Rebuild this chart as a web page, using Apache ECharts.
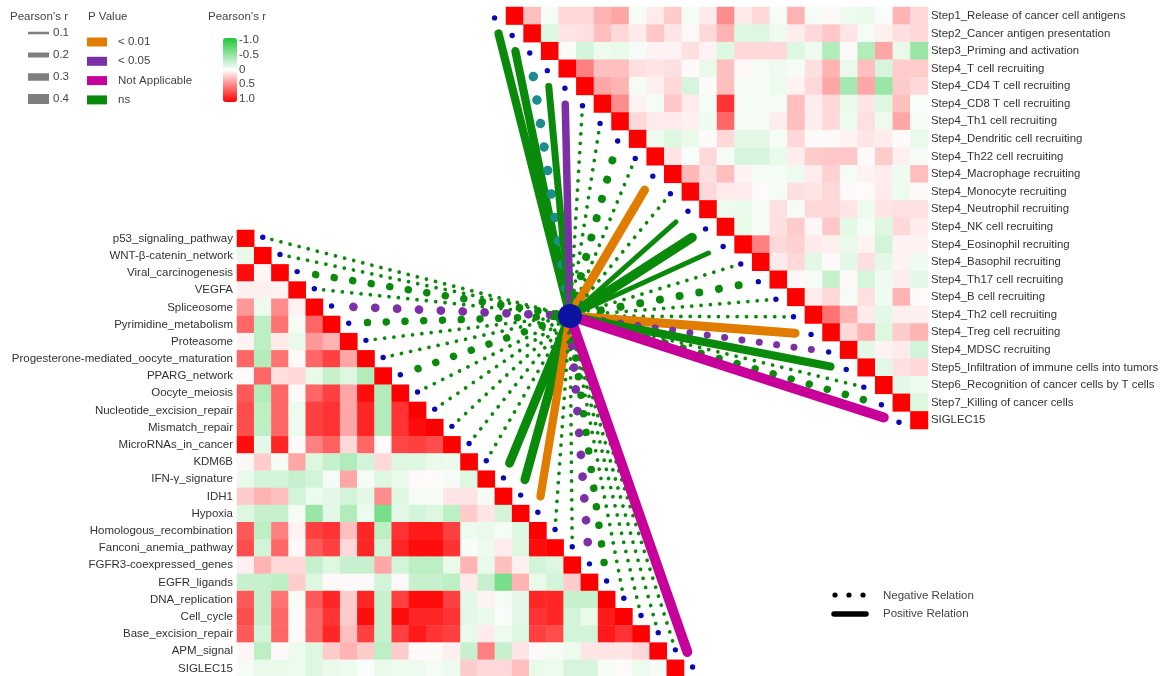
<!DOCTYPE html>
<html>
<head>
<meta charset="utf-8">
<title>Correlation network</title>
<script src="https://cdn.jsdelivr.net/npm/echarts/dist/echarts.min.js"></script>
<style>
  html, body { margin: 0; padding: 0; background: #fff; }
  #main { width: 1170px; height: 676px; }
</style>
</head>
<body>
<div id="main"></div>
<script>
// immune cycle steps (right triangle, upper half)
const rightLabels = [
  'Step1_Release of cancer cell antigens', 'Step2_Cancer antigen presentation',
  'Step3_Priming and activation', 'Step4_T cell recruiting', 'Step4_CD4 T cell recruiting',
  'Step4_CD8 T cell recruiting', 'Step4_Th1 cell recruiting', 'Step4_Dendritic cell recruiting',
  'Step4_Th22 cell recruiting', 'Step4_Macrophage recruiting', 'Step4_Monocyte recruiting',
  'Step4_Neutrophil recruiting', 'Step4_NK cell recruiting', 'Step4_Eosinophil recruiting',
  'Step4_Basophil recruiting', 'Step4_Th17 cell recruiting', 'Step4_B cell recruiting',
  'Step4_Th2 cell recruiting', 'Step4_Treg cell recruiting', 'Step4_MDSC recruiting',
  'Step5_Infiltration of immune cells into tumors', 'Step6_Recognition of cancer cells by T cells',
  'Step7_Killing of cancer cells', 'SIGLEC15'
]

// pathways (left triangle, lower half)
const leftLabels = [
  'p53_signaling_pathway', 'WNT-β-catenin_network', 'Viral_carcinogenesis', 'VEGFA',
  'Spliceosome', 'Pyrimidine_metabolism', 'Proteasome', 'Progesterone-mediated_oocyte_maturation',
  'PPARG_network', 'Oocyte_meiosis', 'Nucleotide_excision_repair', 'Mismatch_repair',
  'MicroRNAs_in_cancer', 'KDM6B', 'IFN-γ_signature', 'IDH1', 'Hypoxia',
  'Homologous_recombination', 'Fanconi_anemia_pathway', 'FGFR3-coexpressed_genes',
  'EGFR_ligands', 'DNA_replication', 'Cell_cycle', 'Base_excision_repair', 'APM_signal', 'SIGLEC15'
]

// right matrix, row i starts at the diagonal (column i)
const rightCorr = [
  [1, 0.25, -0.05, 0.15, 0.15, 0.3, 0.35, -0.05, 0.08, 0.2, -0.05, 0.08, 0.45, 0.08, 0.15, -0.05, 0.3, -0.05, 0.02, -0.08, -0.1, -0.03, 0.3, 0.15],
  [1, -0.15, 0.1, 0.12, 0.25, 0.15, 0.08, 0.22, 0.1, 0.03, 0.15, 0.3, -0.15, -0.15, -0.07, 0.07, 0.15, 0.22, 0.1, -0.05, 0.06, 0.12, 0.15],
  [1, -0.03, -0.2, -0.08, -0.1, -0.05, 0.05, 0.05, 0.12, 0.05, -0.15, 0.15, 0.15, 0.15, -0.15, -0.08, -0.35, 0.02, -0.35, 0.35, -0.1, -0.45],
  [1, 0.5, 0.25, 0.25, 0.12, 0.1, 0.12, 0.02, -0.1, 0.25, 0.03, -0.05, -0.07, -0.05, 0.12, 0.3, -0.1, 0.25, -0.18, 0.2, 0.2],
  [1, 0.35, 0.3, -0.05, 0.06, 0.15, -0.18, 0.02, 0.25, -0.05, -0.05, -0.08, 0.05, 0.15, 0.35, -0.4, 0.35, -0.45, 0.2, 0.15],
  [1, 0.45, 0.05, -0.05, 0.22, 0.08, -0.05, 0.8, -0.05, -0.05, -0.05, 0.25, 0.07, 0.15, -0.1, 0.1, -0.15, 0.25, -0.03],
  [1, 0.15, 0.08, 0.08, 0.06, -0.07, 0.6, -0.05, -0.05, 0.07, 0.25, 0.07, 0.15, -0.08, 0.12, -0.08, 0.35, -0.05],
  [1, -0.08, -0.15, -0.1, 0.02, 0.15, -0.12, -0.12, -0.05, 0.15, 0.02, 0.02, 0.05, 0.1, 0.07, 0.02, -0.1],
  [1, 0.1, -0.03, 0.15, -0.05, -0.18, -0.18, -0.1, 0.07, 0.2, 0.22, 0.22, 0.02, 0.2, 0.06, -0.05],
  [1, 0.28, 0.12, 0.25, 0.05, -0.05, -0.05, -0.08, 0.07, 0.18, -0.05, 0.05, 0.07, -0.07, 0.25],
  [1, 0.15, 0.08, 0.07, 0.02, -0.05, 0.12, 0.1, 0.15, 0.02, 0.02, 0.08, -0.08, 0.02],
  [1, -0.08, -0.1, -0.05, 0.12, -0.05, 0.15, 0.15, 0.1, -0.08, 0.1, 0.12, 0.12],
  [1, -0.1, -0.05, 0.12, 0.2, 0.03, 0.22, -0.12, -0.05, -0.15, 0.15, 0.08],
  [1, 0.5, 0.15, 0.18, 0.08, 0.06, -0.1, 0.05, -0.2, 0.05, 0.05],
  [1, 0.08, 0.15, -0.12, 0.02, -0.12, 0.12, -0.12, 0.05, -0.07],
  [1, 0.03, -0.05, -0.25, 0.02, -0.18, -0.07, 0.07, -0.12],
  [1, 0.07, 0.15, -0.05, 0.12, -0.07, 0.3, 0.02],
  [1, 0.55, 0.3, 0.08, -0.12, 0.06, 0.06],
  [1, 0.15, 0.3, -0.15, 0.2, 0.3],
  [1, -0.12, 0.05, 0.08, -0.2],
  [1, -0.12, 0.12, 0.15],
  [1, -0.12, -0.08],
  [1, -0.15],
  [1]
]

// left matrix, row i runs from column 0 to the diagonal
const leftCorr = [
  [1],
  [-0.1, 1],
  [0.95, 0.03, 1],
  [0.06, 0.06, 0.05, 1],
  [0.4, -0.08, 0.45, 0.05, 1],
  [0.6, -0.3, 0.55, -0.05, 0.6, 1],
  [0.05, -0.3, 0.08, -0.1, 0.4, 0.3, 1],
  [0.6, -0.35, 0.55, 0.02, 0.6, 0.75, 0.35, 1],
  [0.02, 0.6, 0.12, 0.15, -0.1, -0.25, -0.15, -0.35, 1],
  [0.65, -0.35, 0.6, 0.02, 0.6, 0.75, 0.35, 0.95, -0.35, 1],
  [0.7, -0.3, 0.6, -0.08, 0.75, 0.8, 0.35, 0.85, -0.35, 0.8, 1],
  [0.7, -0.3, 0.6, -0.08, 0.75, 0.8, 0.35, 0.85, -0.35, 0.8, 0.95, 1],
  [0.95, -0.12, 0.85, 0.02, 0.5, 0.62, 0.15, 0.6, 0.02, 0.72, 0.75, 0.7, 1],
  [0.03, 0.2, -0.05, 0.35, -0.15, -0.25, -0.35, -0.2, 0.15, -0.15, -0.15, -0.1, -0.08, 1],
  [-0.1, -0.2, -0.2, -0.25, -0.2, -0.05, 0.35, -0.05, -0.15, -0.1, 0.02, 0.02, -0.05, -0.15, 1],
  [0.2, 0.3, 0.25, -0.2, -0.08, -0.12, -0.2, -0.12, 0.45, -0.15, -0.05, -0.05, 0.1, 0.1, -0.05, 1],
  [-0.15, -0.25, -0.25, -0.05, -0.45, -0.12, -0.35, -0.08, -0.6, -0.12, -0.2, -0.15, -0.3, 0.2, 0.1, -0.2, 1],
  [0.65, -0.3, 0.5, 0.05, 0.75, 0.8, 0.25, 0.85, -0.3, 0.8, 0.9, 0.9, 0.75, -0.08, -0.1, -0.05, -0.15, 1],
  [0.7, -0.2, 0.6, 0.02, 0.65, 0.75, 0.15, 0.85, -0.2, 0.85, 0.95, 0.95, 0.8, -0.03, -0.08, 0.08, -0.15, 0.95, 1],
  [0.06, 0.3, 0.15, 0.15, -0.25, -0.15, -0.25, -0.25, 0.35, -0.2, -0.3, -0.3, -0.1, 0.3, -0.1, 0.25, 0.06, -0.2, -0.15, 1],
  [-0.25, -0.25, -0.3, 0.2, -0.15, 0.02, 0.02, 0.02, -0.2, 0.02, -0.25, -0.25, -0.3, 0.08, -0.25, -0.6, 0.3, -0.1, -0.2, 0.2, 1],
  [0.65, -0.25, 0.55, -0.05, 0.65, 0.85, 0.2, 0.85, -0.25, 0.75, 0.95, 0.95, 0.75, -0.12, 0.05, -0.05, -0.12, 0.85, 0.85, -0.25, -0.25, 1],
  [0.7, -0.25, 0.6, 0.02, 0.6, 0.8, 0.2, 0.95, -0.25, 0.95, 0.85, 0.85, 0.8, -0.12, -0.1, -0.03, -0.12, 0.8, 0.85, -0.2, -0.1, 0.9, 1],
  [0.65, -0.2, 0.6, 0.02, 0.6, 0.85, 0.25, 0.75, -0.25, 0.75, 0.9, 0.8, 0.75, -0.1, 0.08, -0.08, -0.15, 0.75, 0.7, -0.2, -0.2, 0.9, 0.8, 1],
  [0.04, -0.3, 0.02, -0.08, -0.15, 0.2, 0.3, 0.2, -0.3, 0.2, 0.02, 0.02, 0.06, -0.25, 0.5, -0.25, 0.1, 0.02, -0.05, -0.08, 0.1, 0.1, 0.1, 0.15, 1],
  [-0.05, -0.1, -0.1, -0.08, -0.15, -0.1, -0.08, -0.03, -0.1, -0.08, -0.08, -0.05, -0.08, 0.2, 0.15, 0.15, 0.25, -0.1, -0.08, -0.18, -0.18, -0.05, 0.02, -0.08, -0.05, 1]
]

// links from the SIGLEC15 hub: r (sign = relation) and p value group
const rightLinkR = [0.33, 0.33, -0.38, 0.28, 0.3, -0.15, -0.15, -0.32, -0.15, 0.35, -0.15, 0.2,
  0.38, 0.2, -0.15, -0.32, -0.15, -0.15, 0.36, -0.28, 0.33, -0.15, -0.3, 0.4]
const rightLinkP = ['ns', 'ns', 'mix', 'ns', '<0.05', 'ns', 'ns', 'ns', 'ns', '<0.01', 'ns', 'ns',
  'ns', 'ns', 'ns', 'ns', 'ns', 'ns', '<0.01', '<0.05', 'ns', 'ns', 'ns', 'NA']
const leftLinkR = [-0.15, -0.15, -0.3, -0.15, -0.35, -0.3, -0.15, -0.15, -0.3, -0.15, -0.15, -0.15, -0.15,
  -0.15, 0.36, 0.36, 0.33, -0.15, -0.15, -0.35, -0.3, -0.15, -0.15, -0.15, -0.15, 0.4]
const leftLinkP = ['ns', 'ns', 'ns', 'ns', '<0.05', 'ns', 'ns', 'ns', 'ns', 'ns', 'ns', 'ns', 'ns',
  'ns', 'ns', 'ns', '<0.01', 'ns', 'ns', '<0.05', 'ns', 'ns', 'ns', 'ns', 'ns', 'NA']

// legend entries
const sizeTicks = [0.1, 0.2, 0.3, 0.4]
const pKeys = ['<0.01', '<0.05', 'NA', 'ns', 'mix']
const pNames = ['< 0.01', '< 0.05', 'Not Applicable', 'ns']
const colorTicks = [-1, -0.5, 0, 0.5, 1]
const colorTickLabels = ['-1.0', '-0.5', '0', '0.5', '1.0']

const pColors = ['#e07d00', '#7b30a8', '#c8009a', '#0a8a0a', '#1d8c8c']
const FONT = '"Liberation Sans", Arial, sans-serif'
const HUB = [570, 316]
const WIDTH_SCALE = 25

const rightCells = []
rightCorr.forEach((row, i) => row.forEach((v, k) => rightCells.push([i + k, i, v])))
const leftCells = []
leftCorr.forEach((row, i) => row.forEach((v, j) => leftCells.push([j, i, v])))

function linkData(rs, ps) {
  return rs.map((r, i) => [i, r, pKeys.indexOf(ps[i])])
}

function linkRender(side) {
  return function(params, api) {
    const row = api.value(0)
    const r = api.value(1)
    const color = pColors[api.value(2)]
    const c = api.coord([row, row])
    const s = api.size([1, 1])
    const dot = side === 'right'
      ? [c[0] - 1.15 * s[0], c[1] + 0.12 * s[1]]
      : [c[0] + 1.0 * s[0], c[1] - 0.08 * s[1]]
    const dx = HUB[0] - dot[0]
    const dy = HUB[1] - dot[1]
    const len = Math.sqrt(dx * dx + dy * dy)
    const ux = dx / len
    const uy = dy / len
    const w = Math.abs(r) * WIDTH_SCALE
    let line
    if (r > 0) {
      line = {
        type: 'line',
        shape: { x1: dot[0] + ux * 16, y1: dot[1] + uy * 16, x2: HUB[0], y2: HUB[1] },
        style: { stroke: color, lineWidth: w, lineCap: 'round' }
      }
    } else {
      const gap = w * 2.5
      line = {
        type: 'line',
        shape: { x1: dot[0] + ux * gap, y1: dot[1] + uy * gap, x2: HUB[0], y2: HUB[1] },
        style: { stroke: color, lineWidth: w, lineCap: 'round', lineDash: [0.01, gap] }
      }
    }
    return {
      type: 'group',
      children: [
        line,
        { type: 'circle', shape: { cx: dot[0], cy: dot[1], r: 2.7 }, style: { fill: '#0a0ab4' }, z2: 5 }
      ]
    }
  }
}

const legendGraphics = []
function addText(x, y, text, align) {
  legendGraphics.push({
    type: 'text', x: x, y: y, z: 20,
    style: { text: text, fill: '#444', font: '11.5px ' + FONT, textAlign: align || 'left', textVerticalAlign: 'middle' }
  })
}
addText(10, 17, 'Pearson’s r')
sizeTicks.forEach((v, i) => {
  const h = v * WIDTH_SCALE
  const y = 33 + i * 22
  legendGraphics.push({ type: 'rect', z: 20, shape: { x: 28, y: y - h / 2, width: 21, height: h }, style: { fill: '#7f7f7f' } })
  addText(53, y, String(v))
})
addText(88, 17, 'P Value')
pNames.forEach((name, i) => {
  const y = 42 + i * 19.3
  legendGraphics.push({ type: 'rect', z: 20, shape: { x: 87, y: y - 4.5, width: 20, height: 9 }, style: { fill: pColors[i] } })
  addText(118, y, name)
})
addText(208, 17, 'Pearson’s r')
colorTicks.forEach((v, i) => {
  addText(239, 40 + (v + 1) / 2 * 59, colorTickLabels[i])
})
// relation legend
;[835, 849, 863].forEach(x => {
  legendGraphics.push({ type: 'circle', z: 20, shape: { cx: x, cy: 595, r: 2.6 }, style: { fill: '#000' } })
})
legendGraphics.push({ type: 'line', z: 20, shape: { x1: 834, y1: 614, x2: 866, y2: 614 }, style: { stroke: '#000', lineWidth: 5.5, lineCap: 'round' } })
addText(883, 596, 'Negative Relation')
addText(883, 614, 'Positive Relation')
// hub node
legendGraphics.push({ type: 'circle', z: 30, shape: { cx: HUB[0], cy: HUB[1], r: 12 }, style: { fill: '#0a14a0' } })

const chart = echarts.init(document.getElementById('main'))
chart.setOption({
  animation: false,
  backgroundColor: '#fff',
  grid: [
    { left: 506, top: 7, width: 422, height: 422, containLabel: false, outerBoundsMode: 'none' },
    { left: 237, top: 230, width: 447, height: 447, containLabel: false, outerBoundsMode: 'none' }
  ],
  xAxis: [
    { type: 'category', gridIndex: 0, data: rightLabels, show: false },
    { type: 'category', gridIndex: 1, data: leftLabels, show: false }
  ],
  yAxis: [
    {
      type: 'category', gridIndex: 0, data: rightLabels, inverse: true, position: 'right',
      axisLine: { show: false }, axisTick: { show: false }, splitLine: { show: false },
      axisLabel: { fontSize: 11.4, color: '#333', fontFamily: FONT, margin: 3, interval: 0 }
    },
    {
      type: 'category', gridIndex: 1, data: leftLabels, inverse: true, position: 'left',
      axisLine: { show: false }, axisTick: { show: false }, splitLine: { show: false },
      axisLabel: { fontSize: 11.5, color: '#333', fontFamily: FONT, margin: 4, interval: 0 }
    }
  ],
  visualMap: {
    type: 'continuous',
    seriesIndex: [0, 1],
    min: -1,
    max: 1,
    inverse: true,
    calculable: false,
    left: 223,
    top: 38,
    itemWidth: 14,
    itemHeight: 64,
    padding: 0,
    text: null,
    inRange: { color: ['#1fc83a', '#ffffff', '#ff0000'] }
  },
  graphic: { elements: legendGraphics },
  series: [
    {
      type: 'heatmap', xAxisIndex: 0, yAxisIndex: 0, data: rightCells,
      itemStyle: { borderWidth: 0 }, emphasis: { disabled: true }, silent: true
    },
    {
      type: 'heatmap', xAxisIndex: 1, yAxisIndex: 1, data: leftCells,
      itemStyle: { borderWidth: 0 }, emphasis: { disabled: true }, silent: true
    },
    {
      type: 'custom', xAxisIndex: 0, yAxisIndex: 0, z: 5, silent: true,
      data: linkData(rightLinkR, rightLinkP), renderItem: linkRender('right')
    },
    {
      type: 'custom', xAxisIndex: 1, yAxisIndex: 1, z: 5, silent: true,
      data: linkData(leftLinkR, leftLinkP), renderItem: linkRender('left')
    }
  ]
})
</script>
</body>
</html>
